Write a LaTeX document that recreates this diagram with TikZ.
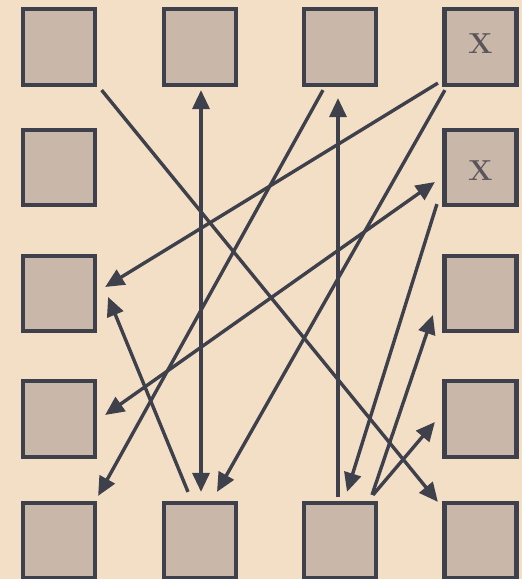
\documentclass[tikz,border=0pt]{standalone}
\usetikzlibrary{arrows.meta}
\definecolor{bgc}{HTML}{F3DFC5}
\definecolor{boxc}{HTML}{C9B8A9}
\definecolor{dark}{HTML}{3E404C}
\definecolor{xc}{HTML}{5A5559}
\begin{document}
\begin{tikzpicture}[x=1bp,y=-1bp,
  sq/.style={draw=dark, fill=boxc, line width=4.2bp, minimum width=72bp, minimum height=75.5bp, inner sep=0pt, outer sep=2.1bp},
  arr/.style={draw=dark, line width=3.4bp, -{Triangle[length=19bp,width=17bp]}},
  darr/.style={draw=dark, line width=3.4bp, {Triangle[length=19bp,width=17bp]}-{Triangle[length=19bp,width=17bp]}},
  xmark/.style={text=xc, inner sep=0pt, font=\fontsize{29}{29}\selectfont\bfseries}
]
\fill[bgc] (0,0) rectangle (522,579);
\useasboundingbox (0,0) rectangle (522,579);
% squares: s<col><row>
\node[sq] (s00) at (59,47) {};
\node[sq] (s10) at (200,47) {};
\node[sq] (s20) at (340,47) {};
\node[sq] (s30) at (480.5,47) {};
\node[sq] (s01) at (59,167.5) {};
\node[sq] (s31) at (480.5,167.5) {};
\node[sq] (s02) at (59,293.5) {};
\node[sq] (s32) at (480.5,293.5) {};
\node[sq] (s03) at (59,419) {};
\node[sq] (s33) at (480.5,419) {};
\node[sq] (s04) at (59,540.5) {};
\node[sq] (s14) at (200,540.5) {};
\node[sq] (s24) at (340,540.5) {};
\node[sq] (s34) at (480.5,540.5) {};
\node[xmark] (x30) at (480.5,44) {X};
\node[xmark] (x31) at (480.5,170.5) {X};
% connectors
\draw[arr] ([shift={(4.5,3.25)}]s00.south east) -- ([shift={(-4.5,1.25)}]s34.north west);
\draw[darr] ([shift={(1,3.25)}]s10.south) -- ([shift={(1,-8.75)}]s14.north);
\draw[arr] ([shift={(-2,-3.75)}]s24.north) -- ([shift={(-2,11.25)}]s20.south);
\draw[arr] ([shift={(-17,3.25)}]s20.south) -- ([shift={(1,-4.75)}]s04.north east);
\draw[arr] ([shift={(-4.5,-3.75)}]s30.south west) -- ([shift={(8,-6.5)}]s02.east);
\draw[arr] ([shift={(2.5,3.25)}]s30.south west) -- ([shift={(17,-8.75)}]s14.north);
\draw[arr] ([shift={(-5.5,-3.25)}]s31.south west) -- ([shift={(7,-8.75)}]s24.north);
\draw[darr] ([shift={(8,-4)}]s03.east) -- ([shift={(-7.5,14.5)}]s31.west);
\draw[arr] ([shift={(-12,-8.75)}]s14.north) -- ([shift={(11,3.5)}]s02.east);
\draw[arr] ([shift={(32,-5.75)}]s24.north) -- ([shift={(-9.5,21.5)}]s32.west);
\draw[arr] ([shift={(33,-5.75)}]s24.north) -- ([shift={(-7.5,3)}]s33.west);
\end{tikzpicture}
\end{document}
